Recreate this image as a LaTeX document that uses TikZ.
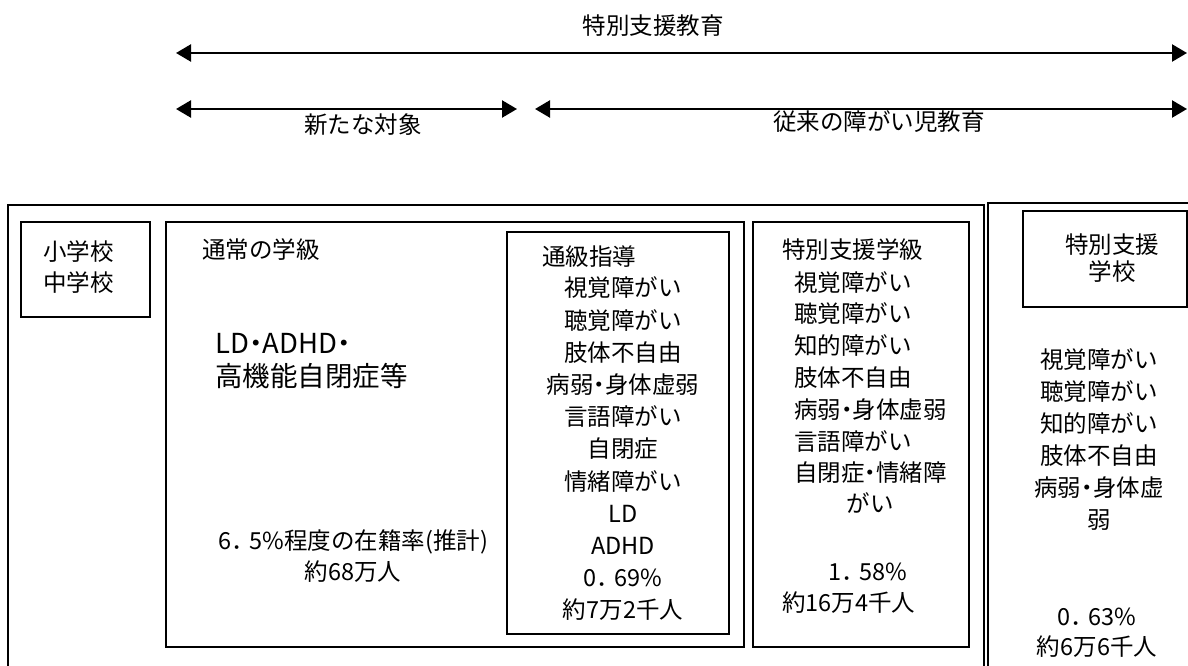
\documentclass[tikz,border=0pt]{standalone}
\usepackage{fontspec}
\setmainfont{Noto Sans CJK JP}
\usetikzlibrary{arrows.meta}
\newcommand\nkg{\makebox[0.5em][c]{・}}
\newcommand\fwp{\makebox[0.78em][l]{．}}
\begin{document}
\begin{tikzpicture}[x=1pt,y=-1pt,
  box/.style={draw=black, line width=1.6pt},
  txt/.style={font=\fontsize{23.5}{32}\selectfont, inner sep=0pt, text=black},
  big/.style={font=\fontsize{27.5}{33}\selectfont, inner sep=0pt, text=black},
  span/.style={line width=2.4pt, {Triangle[length=15pt,width=17pt]}-{Triangle[length=15pt,width=17pt]}}]
\useasboundingbox (0,0) rectangle (1188,666);
\clip (0,0) rectangle (1188,666);
\fill[white] (0,0) rectangle (1188,666);

% top spans
\node[txt] (ttl) at (653,26) {特別支援教育};
\coordinate (a1l) at (176,53);
\coordinate (a1r) at (1187,53);
\draw[span] (a1l) -- (a1r);
\coordinate (a2l) at (176,109);
\coordinate (a2r) at (517,109);
\coordinate (a3l) at (535,109);
\coordinate (a3r) at (1187,109);
\draw[span] (a2l) -- (a2r);
\draw[span] (a3l) -- (a3r);
\node[txt] (new) at (363,125) {新たな対象};
\node[txt] (old) at (879,122) {従来の障がい児教育};

% boxes
\draw[box] (8,205) rectangle (984,700);
\draw[box] (988,203) rectangle (1210,700);
\draw[box] (21,222) rectangle (150,317);
\draw[box] (166,222) rectangle (744,647);
\draw[box] (507,232) rectangle (729,634);
\draw[box] (753,222) rectangle (969,647);
\draw[box] (1023,211) rectangle (1187,307);

% school
\node[txt, font=\fontsize{23.5}{31}\selectfont, align=left, anchor=west] (es) at (43,267.5) {小学校\\中学校};

% regular class
\node[txt, anchor=west] (reg) at (202,250) {通常の学級};
\node[big, align=left, anchor=west] (ld) at (215,361.5) {LD\nkg ADHD\nkg\\高機能自閉症等};
\node[txt, font=\fontsize{23.5}{31}\selectfont, align=center] (rate) at (353,556.5) {6\fwp 5\%程度の在籍率(推計)\\約68万人};

% resource room
\node[txt, anchor=west] (tk) at (542,257) {通級指導};
\node[txt, font=\fontsize{23.5}{32.2}\selectfont, align=center] (tklist) at (623,449)
  {視覚障がい\\聴覚障がい\\肢体不自由\\病弱\nkg 身体虚弱\\言語障がい\\自閉症\\情緒障がい\\LD\\ADHD\\0\fwp 69\%\\約7万2千人};

% special class
\node[txt, anchor=west] (sg) at (782,250) {特別支援学級};
\node[txt, font=\fontsize{23.5}{31.8}\selectfont, align=left, anchor=west] (sglist) at (794,377.5)
  {視覚障がい\\聴覚障がい\\知的障がい\\肢体不自由\\病弱\nkg 身体虚弱\\言語障がい\\自閉症\nkg 情緒障};
\node[txt] (sgb) at (870,503) {がい};
\node[txt] (sgp) at (868,572) {1\fwp 58\%};
\node[txt, anchor=west] (sgn) at (782,603) {約16万4千人};

% special school
\node[txt, font=\fontsize{23.5}{27}\selectfont, align=center] (ss) at (1112,258.5) {特別支援\\学校};
\node[txt, font=\fontsize{23.5}{32}\selectfont, align=center] (sslist) at (1099,440)
  {視覚障がい\\聴覚障がい\\知的障がい\\肢体不自由\\病弱\nkg 身体虚\\弱};
\node[txt, font=\fontsize{23.5}{30}\selectfont, align=center] (ssp) at (1097,633) {0\fwp 63\%\\約6万6千人};
\end{tikzpicture}
\end{document}
